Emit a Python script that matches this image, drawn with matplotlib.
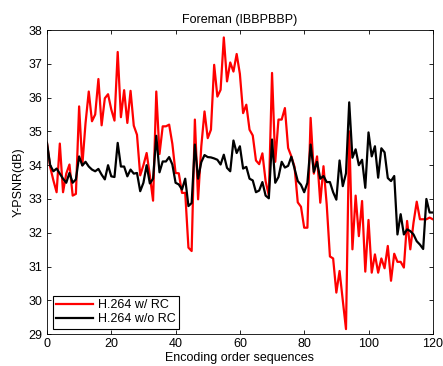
import matplotlib
matplotlib.use("Agg")
import matplotlib.pyplot as plt
import numpy as np

plt.rcParams["font.family"] = ["Liberation Sans", "DejaVu Sans"]
plt.rcParams["font.size"] = 9

# Y-PSNR per frame, encoding order 0..120
psnr_rc = [
    34.66, 33.95, 33.55, 33.2, 34.64, 33.2, 33.75, 34.02, 33.1, 33.15,
    35.74, 34.0, 35.25, 36.18, 35.3, 35.5, 36.55, 35.18, 35.98, 36.1,
    35.65, 35.32, 37.35, 35.42, 36.22, 35.25, 36.2, 35.17, 34.9, 33.7,
    34.0, 34.36, 33.7, 32.95, 36.18, 34.33, 35.15, 35.15, 35.2, 34.63,
    33.77, 33.76, 33.18, 33.18, 31.56, 31.46, 35.35, 32.99, 34.56, 35.59,
    34.8, 35.05, 36.97, 36.03, 36.23, 37.78, 36.48, 37.04, 36.77, 37.29,
    36.7, 35.54, 35.79, 35.05, 34.88, 34.14, 34.03, 34.35, 33.53, 33.1,
    36.73, 34.1, 35.35, 35.35, 35.69, 34.51, 34.26, 33.95, 32.9, 32.77,
    32.15, 32.15, 35.4, 33.75, 34.26, 32.89, 33.97, 32.84, 31.3, 31.24,
    30.23, 30.87, 30.0, 29.15, 35.0, 31.51, 33.1, 31.9, 32.94, 30.85,
    32.38, 30.82, 31.36, 30.82, 31.24, 30.95, 31.61, 30.58, 31.38, 31.14,
    31.14, 30.97, 32.35, 31.51, 32.3, 32.92, 32.4, 32.4, 32.4, 32.45,
    32.4,
]
psnr_norc = [
    34.66, 34.0, 33.82, 33.9, 33.75, 33.6, 33.48, 33.77, 33.48, 33.58,
    34.26, 33.99, 34.1, 33.96, 33.87, 33.82, 33.89, 33.72, 33.58, 34.0,
    33.67, 33.65, 34.66, 33.96, 33.96, 33.67, 33.87, 33.75, 33.77, 33.23,
    33.48, 34.0, 33.46, 33.6, 34.87, 33.79, 34.11, 34.11, 34.24, 34.02,
    33.48, 33.43, 33.28, 33.6, 32.79, 32.88, 34.61, 33.6, 34.09, 34.3,
    34.24, 34.23, 34.2, 34.16, 34.02, 34.31, 33.92, 33.82, 34.73, 34.36,
    34.56, 33.9, 33.95, 33.6, 33.55, 33.2, 33.25, 33.5, 33.1, 33.02,
    34.76, 33.48, 33.65, 34.1, 33.93, 33.98, 34.25, 33.9, 33.53, 33.42,
    33.2, 33.48, 34.61, 33.8, 34.1, 33.6, 33.68, 33.5, 33.5, 33.2,
    32.98, 34.14, 33.38, 33.76, 35.86, 34.22, 34.47, 34.0, 34.16, 33.33,
    34.97, 34.26, 34.56, 33.63, 34.5, 34.38, 33.62, 33.53, 33.68, 31.95,
    32.55, 31.95, 32.1, 32.05, 31.95, 31.75, 31.65, 31.52, 33.0, 32.6,
    32.6,
]
frames = np.arange(len(psnr_rc))

fig = plt.figure(figsize=(4.43, 3.66), dpi=100)
ax = fig.add_axes([0.106, 0.087, 0.871, 0.831])

ax.plot(frames, psnr_rc, color="red", lw=1.6, label="H.264 w/ RC")
ax.plot(frames, psnr_norc, color="black", lw=1.6, label="H.264 w/o RC")

ax.set_xlim(0, 120)
ax.set_ylim(29, 38)
ax.set_xticks(range(0, 121, 20))
ax.set_yticks(range(29, 39))
ax.tick_params(direction="in", top=True, right=True, length=3, width=0.6, pad=3)
for s in ax.spines.values():
    s.set_linewidth(0.6)

ax.set_title("Foreman (IBBPBBP)", fontsize=9, pad=5)
ax.set_xlabel("Encoding order sequences", labelpad=1)
ax.set_ylabel("Y-PSNR(dB)", labelpad=3)

leg = ax.legend(loc="lower left", handlelength=3.0, fancybox=False,
                borderaxespad=0.45, edgecolor="black", framealpha=1,
                borderpad=0.25, labelspacing=0.2, handletextpad=0.4,
                fontsize=9)
leg.get_frame().set_linewidth(0.8)

fig.savefig("out.png", dpi=100)
